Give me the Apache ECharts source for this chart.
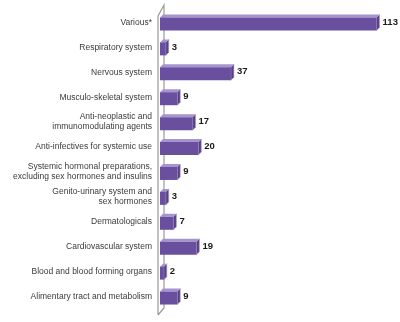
<!DOCTYPE html>
<html>
<head>
<meta charset="utf-8">
<script src="https://cdn.jsdelivr.net/npm/echarts@6/dist/echarts.min.js"></script>
<style>html,body{margin:0;padding:0;background:#fff;}#c{width:400px;height:322px;}</style>
</head>
<body>
<div id="c"></div>
<script>
var categories = [
  "Various*",
  "Respiratory system",
  "Nervous system",
  "Musculo-skeletal system",
  "Anti-neoplastic and\nimmunomodulating agents",
  "Anti-infectives for systemic use",
  "Systemic hormonal preparations,\nexcluding sex hormones and insulins",
  "Genito-urinary system and\nsex hormones",
  "Dermatologicals",
  "Cardiovascular system",
  "Blood and blood forming organs",
  "Alimentary tract and metabolism"
];
var values = [113, 3, 37, 9, 17, 20, 9, 3, 7, 19, 2, 9];

var chart = echarts.init(document.getElementById('c'), null, {renderer: 'canvas'});
var D = 3, FRONT = 13;
chart.setOption({
  animation: false,
  backgroundColor: '#ffffff',
  grid: {left: 160, right: 10, top: 10, bottom: 13},
  xAxis: {type: 'value', min: 0, max: 120, show: false},
  yAxis: {
    type: 'category', data: categories, inverse: true,
    axisLine: {show: false}, axisTick: {show: false},
    axisLabel: {color: '#3a3a3a', fontSize: 8.5, fontFamily: 'Liberation Sans, Arial, sans-serif', margin: 8, lineHeight: 10, align: 'right'}
  },
  graphic: [
    {type: 'polyline', shape: {points: [[158, 315], [158, 16], [164, 5], [164, 308], [158, 315]]}, style: {stroke: '#9a9a9a', lineWidth: 1.2, fill: null}, z: 1}
  ],
  series: [{
    type: 'custom',
    data: values.map(function (v, i) { return [v, i]; }),
    encode: {x: 0, y: 1},
    z: 5,
    renderItem: function (params, api) {
      var v = api.value(0), idx = api.value(1);
      var s = api.coord([0, idx]);
      var e = api.coord([v, idx]);
      var c = s[1];
      var x0 = s[0], x1 = e[0];
      var yt = c - FRONT / 2 + 1.5, yb = yt + FRONT;
      return {
        type: 'group',
        children: [
          {type: 'polygon', shape: {points: [[x0, yt], [x0 + D, yt - D], [x1 + D, yt - D], [x1, yt]]}, style: {fill: '#a594cf'}},
          {type: 'polygon', shape: {points: [[x1, yt], [x1 + D, yt - D], [x1 + D, yb - D], [x1, yb]]}, style: {fill: '#5a3f8e', stroke: '#b3a5d6', lineWidth: 0.6}},
          {type: 'rect', shape: {x: x0, y: yt, width: x1 - x0, height: FRONT}, style: {fill: '#6b4f9f'}},
          {type: 'text', x: x1 + D + 3, y: c - 0.5, style: {text: String(v), fill: '#1a1a1a', font: 'bold 9.5px Liberation Sans, Arial, sans-serif', textAlign: 'left', textVerticalAlign: 'middle'}}
        ]
      };
    }
  }]
});
</script>
</body>
</html>
